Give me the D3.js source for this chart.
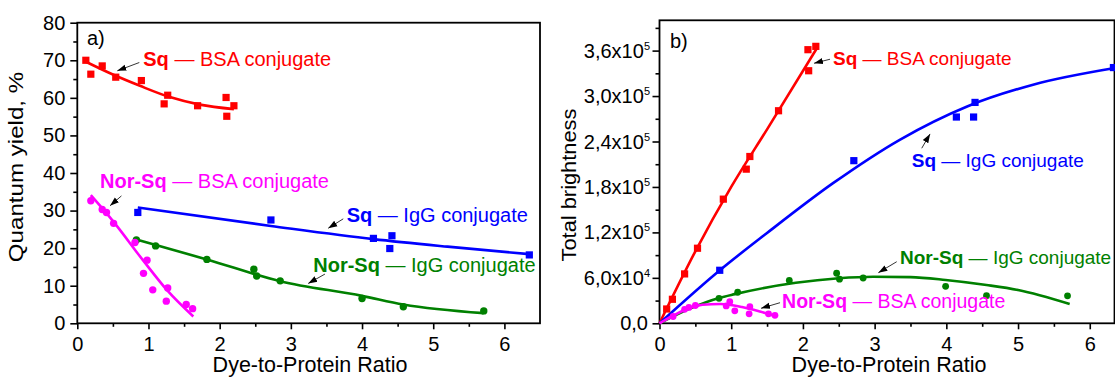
<!DOCTYPE html>
<html><head><meta charset="utf-8">
<script src="https://cdn.jsdelivr.net/npm/d3@7"></script>
<style>
body{margin:0;background:#fff}
svg{display:block}
text{font-family:"Liberation Sans",Arial,sans-serif}
</style>
</head><body>
<svg id="c" width="1115" height="379"></svg>
<script>
// ---------- tick values / labels ----------
const xMajor = [0,1,2,3,4,5,6];
const xMinor = [0.5,1.5,2.5,3.5,4.5,5.5];
const qyMajor = [0,10,20,30,40,50,60,70,80];
const qyMinor = [5,15,25,35,45,55,65,75];
const brMajor = [0,60000,120000,180000,240000,300000,360000];
const brMinor = [30000,90000,150000,210000,270000,330000,390000];
const brTickMain = ["0,0","6,0x10","1,2x10","1,8x10","2,4x10","3,0x10","3,6x10"];
const brTickExp  = ["","4","5","5","5","5","5"];

// ---------- panel a: quantum yield ----------
const aSqBsaX = [0.12,0.19,0.35,0.54,0.90,1.22,1.27,1.69,2.09,2.10,2.20];
const aSqBsaY = [70.0,66.3,68.5,65.5,64.6,58.4,60.7,57.9,60.1,55.1,57.9];
const aSqBsaFitX = [0.12,0.5,0.88,1.3,1.72,2.2];
const aSqBsaFitY = [69.6,66.2,63.2,60.2,58.2,57.0];

const aNorBsaX = [0.19,0.35,0.41,0.51,0.81,0.98,0.93,1.06,1.27,1.25,1.53,1.62];
const aNorBsaY = [32.6,30.3,29.5,26.6,21.5,16.8,13.3,8.9,9.4,5.9,5.0,3.9];
const aNorBsaFitX = [0.19,0.51,0.93,1.27,1.63];
const aNorBsaFitY = [34.1,27.0,16.6,8.6,1.8];

const aSqIgGX = [0.85,2.72,4.16,4.42,4.39,6.35];
const aSqIgGY = [29.5,27.5,22.6,23.3,19.9,18.2];
const aSqIgGFitX = [0.85,2.72,4.16,5.2,6.35];
const aSqIgGFitY = [30.8,25.9,22.4,20.4,18.4];

const aNorIgGX = [0.83,1.10,1.82,2.48,2.52,2.85,4.00,4.58,5.71];
const aNorIgGY = [22.2,20.6,17.0,14.4,12.6,11.3,6.6,4.4,3.3];
const aNorIgGFitX = [0.83,1.82,2.85,4.0,4.58,5.71];
const aNorIgGFitY = [22.3,17.0,11.2,7.3,5.0,2.7];

// ---------- panel b: total brightness ----------
const bSqBsaX = [0.10,0.18,0.35,0.53,0.89,1.21,1.26,1.66,2.07,2.18,2.08];
const bSqBsaY = [18900,31700,65200,99100,163900,203500,220200,280600,361200,365600,333400];
const bSqBsaFitX = [0,0.5,1.0,1.5,2.2];
const bSqBsaFitY = [0,95000,180000,256000,364000];

const bSqIgGX = [0.84,2.71,4.14,4.40,4.38,6.33];
const bSqIgGY = [70000,214700,272300,291600,272300,337600];
const bSqIgGFitX = [0,0.846,1.495,2.42,3.35,4.29,5.21,6.35];
const bSqIgGFitY = [0,70400,118900,185000,242300,286300,315000,337000];

const bNorIgGX = [0.83,1.09,1.81,2.47,2.51,2.84,3.99,4.56,5.69];
const bNorIgGY = [33000,41000,56500,66100,58300,59800,48800,36500,36300];
const bNorIgGFitX = [0,0.4,0.83,1.05,1.9,2.5,2.98,3.5,3.99,4.56,5.0,5.72];
const bNorIgGFitY = [0,18500,33500,38500,53500,59500,61500,61000,57200,50600,44000,25500];

const bNorBsaX = [0.19,0.35,0.41,0.50,0.93,0.98,1.05,1.26,1.25,1.52,1.61];
const bNorBsaY = [9000,18500,21000,23500,23000,28500,16500,22000,12500,12500,10500];
const bNorBsaFitX = [0,0.17,0.4,0.6,0.85,1.15,1.4,1.61];
const bNorBsaFitY = [0,9000,19500,24500,25500,21500,15500,9600];

// ---------- annotation texts ----------
const annBold = ["Sq","Nor-Sq","Sq","Nor-Sq"];
const annRest = [" \u2014 BSA conjugate"," \u2014 BSA conjugate"," \u2014 IgG conjugate"," \u2014 IgG conjugate"];

const RED="#ff0000", BLUE="#0000ff", MAG="#ff00ff", GRN="#008000";
const svg = d3.select("#c");

// arrowhead marker
svg.append("defs").append("marker").attr("id","ah")
  .attr("viewBox","0 0 10 10").attr("refX",10).attr("refY",5)
  .attr("markerWidth",9).attr("markerHeight",9).attr("markerUnits","userSpaceOnUse")
  .attr("orient","auto")
  .append("path").attr("d","M0,1.5 L10,5 L0,8.5 Z").attr("fill","#000");

function zip(xs, ys){ return xs.map((x,i)=>[x, ys[i]]); }

function drawPanel(cfg){
  const g = svg.append("g");
  const x = cfg.x, y = cfg.y;
  // frame
  g.append("rect").attr("x",x.range()[0]).attr("y",y.range()[1])
    .attr("width",x.range()[1]-x.range()[0]).attr("height",y.range()[0]-y.range()[1])
    .attr("fill","none").attr("stroke","#000").attr("stroke-width",1.8);
  // ticks
  const bx = g.append("g").attr("transform",`translate(0,${y.range()[0]})`);
  bx.call(d3.axisBottom(x).tickValues(xMajor).tickSize(6).tickPadding(7.5).tickFormat(d3.format("d")));
  const bxm = g.append("g").attr("transform",`translate(0,${y.range()[0]})`);
  bxm.call(d3.axisBottom(x).tickValues(xMinor).tickSize(3.5).tickFormat(""));
  const ly = g.append("g").attr("transform",`translate(${x.range()[0]},0)`);
  ly.call(d3.axisLeft(y).tickValues(cfg.yMajor).tickSize(7).tickPadding(5).tickFormat(cfg.yFmt || (()=>"")));
  const lym = g.append("g").attr("transform",`translate(${x.range()[0]},0)`);
  lym.call(d3.axisLeft(y).tickValues(cfg.yMinor).tickSize(4).tickFormat(""));
  g.selectAll(".domain").remove();
  g.selectAll(".tick line").attr("stroke","#000").attr("stroke-width",1.6);
  g.selectAll(".tick text").attr("font-size",20).attr("fill","#000")
    .style("font-family",'"Liberation Sans",Arial,sans-serif');

  // fit curves
  const line = d3.line().x(d=>x(d[0])).y(d=>y(d[1])).curve(d3.curveMonotoneX);
  cfg.series.forEach(s=>{
    g.append("path").attr("d",line(zip(s.fx,s.fy))).attr("fill","none")
      .attr("stroke",s.c).attr("stroke-width",2.6);
  });
  // markers
  cfg.series.forEach(s=>{
    const pts = zip(s.px,s.py);
    if(s.m==="sq"){
      g.selectAll(null).data(pts).enter().append("rect")
        .attr("x",d=>x(d[0])-3.6).attr("y",d=>y(d[1])-3.6)
        .attr("width",7.2).attr("height",7.2).attr("fill",s.c);
    } else {
      g.selectAll(null).data(pts).enter().append("circle")
        .attr("cx",d=>x(d[0])).attr("cy",d=>y(d[1])).attr("r",cfg.r||3.7).attr("fill",s.c);
    }
  });
  // annotations
  cfg.ann.forEach(a=>{
    g.append("line").attr("x1",x(a.ax0)).attr("y1",y(a.ay0))
      .attr("x2",x(a.ax1)).attr("y2",y(a.ay1))
      .attr("stroke","#000").attr("stroke-width",0.8).attr("marker-end","url(#ah)");
    const t = g.append("text").attr("x",x(a.tx)).attr("y",y(a.ty))
      .attr("font-size",a.fs||20).attr("fill",a.c);
    t.append("tspan").attr("font-weight","bold").text(annBold[a.i]);
    t.append("tspan").text(annRest[a.i]);
  });
  return g;
}

// ---------- panel a ----------
const xa = d3.scaleLinear().domain([0,6.5]).range([77.3,540]);
const ya = d3.scaleLinear().domain([0,80]).range([323.3,22.7]);
const ga = drawPanel({
  x:xa, y:ya, yMajor:qyMajor, yMinor:qyMinor, yFmt:d3.format("d"),
  series:[
    {px:aSqBsaX,py:aSqBsaY,fx:aSqBsaFitX,fy:aSqBsaFitY,c:RED,m:"sq"},
    {px:aSqIgGX,py:aSqIgGY,fx:aSqIgGFitX,fy:aSqIgGFitY,c:BLUE,m:"sq"},
    {px:aNorIgGX,py:aNorIgGY,fx:aNorIgGFitX,fy:aNorIgGFitY,c:GRN,m:"c"},
    {px:aNorBsaX,py:aNorBsaY,fx:aNorBsaFitX,fy:aNorBsaFitY,c:MAG,m:"c"}
  ],
  ann:[
    {i:0,c:RED, tx:0.927,ty:68.5, ax0:0.871,ay0:69.4, ax1:0.562,ay1:67.2},
    {i:1,c:MAG, tx:0.319,ty:35.9, ax0:0.62,ay0:33.9, ax1:0.46,ay1:31.3},
    {i:2,c:BLUE,tx:3.784,ty:27.0, ax0:3.736,ay0:27.8, ax1:3.525,ay1:25.3},
    {i:3,c:GRN, tx:3.315,ty:13.6, ax0:3.479,ay0:13.1, ax1:3.244,ay1:10.6}
  ]
});
ga.append("text").attr("x",87).attr("y",45).attr("font-size",20).attr("fill","#000").text("a)");
ga.append("text").attr("x",310).attr("y",372).attr("font-size",21.5).attr("text-anchor","middle")
  .attr("fill","#000").text("Dye-to-Protein Ratio");
ga.append("text").attr("transform","translate(23,167) rotate(-90) scale(1.15,1)").attr("font-size",21)
  .attr("text-anchor","middle").attr("fill","#000").text("Quantum yield, %");

// ---------- panel b ----------
const xb = d3.scaleLinear().domain([0,6.345]).range([659.5,1114.5]);
const yb = d3.scaleLinear().domain([0,400000]).range([323.3,20.3]);
const gb = drawPanel({
  x:xb, y:yb, yMajor:brMajor, yMinor:brMinor, r:3.4,
  series:[
    {px:bSqBsaX,py:bSqBsaY,fx:bSqBsaFitX,fy:bSqBsaFitY,c:RED,m:"sq"},
    {px:bSqIgGX,py:bSqIgGY,fx:bSqIgGFitX,fy:bSqIgGFitY,c:BLUE,m:"sq"},
    {px:bNorIgGX,py:bNorIgGY,fx:bNorIgGFitX,fy:bNorIgGFitY,c:GRN,m:"c"},
    {px:bNorBsaX,py:bNorBsaY,fx:bNorBsaFitX,fy:bNorBsaFitY,c:MAG,m:"c"}
  ],
  ann:[
    {i:0,c:RED, fs:19, tx:2.42,ty:341100, ax0:2.378,ay0:348600, ax1:2.155,ay1:343300},
    {i:2,c:BLUE,fs:19, tx:3.517,ty:206400, ax0:3.657,ay0:231100, ax1:3.773,ay1:250000},
    {i:3,c:GRN, fs:19, tx:3.354,ty:78300, ax0:3.308,ay0:81300, ax1:3.052,ay1:66800},
    {i:1,c:MAG, fs:19.5, tx:1.709,ty:19800, ax0:1.681,ay0:27200, ax1:1.416,ay1:19800}
  ]
});
// y tick labels with superscripts
brMajor.forEach((v,i)=>{
  const t = gb.append("text").attr("x",brTickExp[i]?650:648).attr("y",yb(v)+7)
    .attr("font-size",20).attr("text-anchor","end").attr("fill","#000");
  t.append("tspan").text(brTickMain[i]);
  if(brTickExp[i]) t.append("tspan").attr("font-size",11).attr("dy",-8).text(brTickExp[i]);
});
gb.append("text").attr("x",889).attr("y",372).attr("font-size",21.5).attr("text-anchor","middle")
  .attr("fill","#000").text("Dye-to-Protein Ratio");
gb.append("text").attr("transform","translate(576,185) rotate(-90) scale(1.04,1)").attr("font-size",21)
  .attr("text-anchor","middle").attr("fill","#000").text("Total brightness");
gb.append("text").attr("x",670).attr("y",48).attr("font-size",20).attr("fill","#000").text("b)");
</script>
</body></html>
